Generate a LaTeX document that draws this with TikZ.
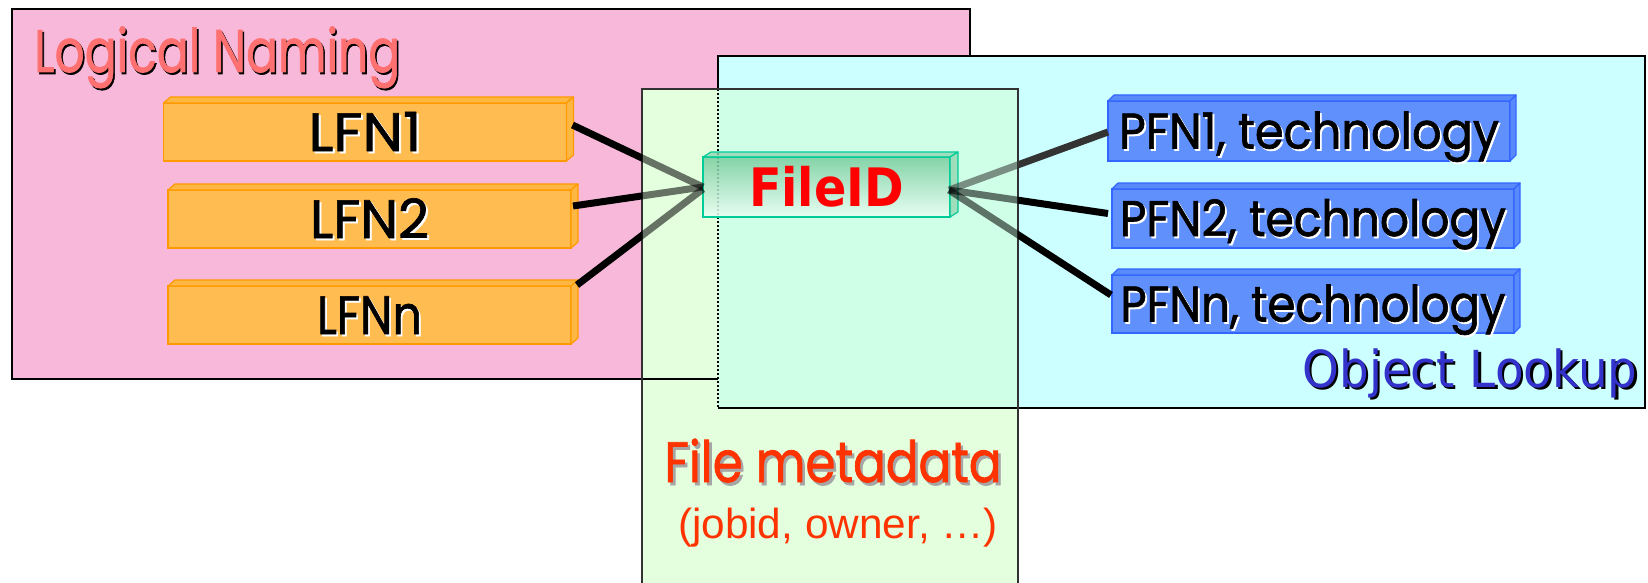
\documentclass[tikz,border=0pt]{standalone}
\usepackage{fontspec}
\usepackage{graphicx}
\newfontfamily\handfont{Poppins}[FakeBold=1.3]
\newfontfamily\verdfont{DejaVu Sans}
\newfontfamily\arialfont{Liberation Sans}

\definecolor{namingfill}{RGB}{248,184,217}
\definecolor{lookupfill}{RGB}{204,255,255}
\definecolor{metafill}{RGB}{228,255,222}
\definecolor{metalookup}{RGB}{208,255,232}
\definecolor{namingtext}{RGB}{255,112,112}
\definecolor{metatext}{RGB}{255,51,0}
\definecolor{lookuptext}{RGB}{51,51,204}
\definecolor{lfnfill}{RGB}{255,188,80}
\definecolor{lfnedge}{RGB}{255,153,0}
\definecolor{pfnfill}{RGB}{96,144,252}
\definecolor{pfnedge}{RGB}{51,102,255}
\definecolor{fidtop}{RGB}{120,204,158}
\definecolor{fidbottom}{RGB}{236,255,244}
\definecolor{fidedge}{RGB}{0,204,153}
\definecolor{linkgrey}{RGB}{51,51,51}

% squeeze or stretch a text horizontally to a given width (in pt)
\newsavebox\fitbox
\newlength\fitlen
\newcommand\fitx[2]{\sbox\fitbox{#2}\setlength\fitlen{\wd\fitbox}%
  \pgfmathsetmacro\fitratio{#1/\fitlen}\scalebox{\fitratio}[1]{\usebox\fitbox}}
% text with a drop shadow: offset, shadow colour, text colour, text
\newcommand\shad[4]{\rlap{\kern#1\raisebox{-#1}{\textcolor{#2}{#4}}}\textcolor{#3}{#4}}

% top and right faces of a slab drawn behind a front face node
\newcommand\slabfaces[4]{%
  \filldraw[#4] (#1.north west) -- ++(#2,-#3) -- ([shift={(#2,-#3)}]#1.north east)
    -- (#1.north east) -- cycle;
  \filldraw[#4] (#1.north east) -- ([shift={(#2,-#3)}]#1.north east)
    -- ([shift={(#2,-#3)}]#1.south east) -- (#1.south east) -- cycle;}

\tikzset{
  area/.style={line width=2pt, draw=black},
  lfnbox/.style={draw=lfnedge, fill=lfnfill, line width=1.6pt, inner sep=0pt, outer sep=0pt,
    minimum width=403pt, minimum height=58pt, text height=38pt, text depth=0pt,
    font=\handfont\fontsize{54pt}{54pt}\selectfont},
  lfnface/.style={draw=lfnedge, fill=lfnfill!85!lfnedge, line width=1.2pt, line join=round},
  pfnbox/.style={draw=pfnedge, fill=pfnfill, line width=1.6pt, inner sep=0pt, outer sep=0pt,
    minimum width=402pt, text height=35pt, text depth=0pt,
    font=\handfont\fontsize{50pt}{50pt}\selectfont},
  pfnface/.style={draw=pfnedge, fill=pfnfill!85!pfnedge, line width=1.2pt, line join=round},
  fidbox/.style={draw=fidedge, top color=fidtop, bottom color=fidbottom, line width=1.6pt,
    inner sep=0pt, outer sep=0pt, minimum width=247pt, minimum height=60pt,
    text height=39pt, text depth=0pt, font=\verdfont\bfseries\fontsize{53pt}{53pt}\selectfont},
  fidface/.style={draw=fidedge, fill=fidtop!80!white, line width=1.2pt, line join=round},
  link/.style={line width=7pt},
}

% the six links from the FileID to logical and physical names
\newcommand\links[1]{%
  \draw[link, #1] ([shift={(6,-7)}]lfn1.east) -- (fid.west);
  \draw[link, #1] ([shift={(2,-13)}]lfn2.east) -- (fid.west);
  \draw[link, #1] ([shift={(6,-1)}]lfnn.north east) -- ([shift={(0,2)}]fid.west);
  \draw[link, #1, draw=linkgrey] ([shift={(-1,3)}]fid.east) -- ([shift={(0,1)}]pfn1.west);
  \draw[link, #1] ([shift={(-1,3)}]fid.east) -- ([shift={(-4,-5)}]pfn2.west);
  \draw[link, #1] ([shift={(-1,3)}]fid.east) -- ([shift={(-1,-9)}]pfnn.west);}

\begin{document}
\begin{tikzpicture}[x=1pt, y=-1pt]
\useasboundingbox (0,0) rectangle (1648,583);

% the three catalogue areas
\filldraw[area, fill=namingfill] (12,9.5) rectangle (970,379);
\filldraw[area, fill=lookupfill] (718,56) rectangle (1645,408);
\fill[metafill] (642,89) rectangle (1018,583);
\fill[metalookup] (718,89) rectangle (1018,408);
\draw[area] (642,379) -- (718,379);
\draw[area] (718,408) -- (1018,408);
\draw[area, dash pattern=on 2pt off 2pt] (718,89) -- (718,408);
\draw[area, draw={rgb,255:red,50;green,50;blue,50}] (642,590) -- (642,89) -- (1018,89) -- (1018,590);

% area titles
\node[anchor=base west, inner sep=0pt, font=\handfont\fontsize{60pt}{60pt}\selectfont] (naming) at (34,72)
  {\fitx{366}{\shad{2pt}{black}{namingtext}{Logical Naming}}};
\node[anchor=base, inner sep=0pt, font=\handfont\fontsize{57pt}{57pt}\selectfont] (meta) at (833,482)
  {\fitx{337}{\shad{3pt}{black!35}{metatext}{File metadata}}};
\node[anchor=base, inner sep=0pt, font=\arialfont\fontsize{42pt}{42pt}\selectfont] (metaex) at (838,538)
  {\fitx{320}{\textcolor{metatext}{(jobid, owner, …)}}};
\node[anchor=base, inner sep=0pt, font=\verdfont\fontsize{51pt}{51pt}\selectfont] (lookup) at (1470,387)
  {\fitx{335}{\shad{2.5pt}{black}{lookuptext}{Object Lookup}}};

% logical file names
\node[lfnbox] (lfn1) at (365,132) {\fitx{113}{\shad{2pt}{white}{black}{LFN1}}};
\node[lfnbox] (lfn2) at (369.5,219) {\fitx{119}{\shad{2pt}{white}{black}{LFN2}}};
\node[lfnbox] (lfnn) at (369.5,315) {\fitx{105}{\shad{2pt}{white}{black}{LFNn}}};
\slabfaces{lfn1}{7}{6}{lfnface}
\slabfaces{lfn2}{7}{6}{lfnface}
\slabfaces{lfnn}{7}{6}{lfnface}

% physical file names
\node[pfnbox, minimum height=60pt] (pfn1) at (1309,131) {\fitx{380}{\shad{2pt}{white}{black}{PFN1, technology}}};
\node[pfnbox, minimum height=59pt] (pfn2) at (1313,218.5) {\fitx{386}{\shad{2pt}{white}{black}{PFN2, technology}}};
\node[pfnbox, minimum height=58pt] (pfnn) at (1313,304) {\fitx{385}{\shad{2pt}{white}{black}{PFNn, technology}}};
\slabfaces{pfn1}{6}{6}{pfnface}
\slabfaces{pfn2}{6}{6}{pfnface}
\slabfaces{pfnn}{6}{6}{pfnface}

% the file identifier
\node[fidbox, fill opacity=0.85, text opacity=1] (fid) at (826.5,187) {\fitx{155}{\textcolor{red}{FileID}}};
\slabfaces{fid}{8}{5}{fidface, fill opacity=0.8}

% links: solid outside the metadata area, seen through it inside
\begin{scope}
  \clip (0,0) rectangle (642,583) (1018,0) rectangle (1648,583);
  \links{}
\end{scope}
\begin{scope}
  \clip (642,0) rectangle (1018,583);
  \links{opacity=0.55}
\end{scope}
\end{tikzpicture}
\end{document}
